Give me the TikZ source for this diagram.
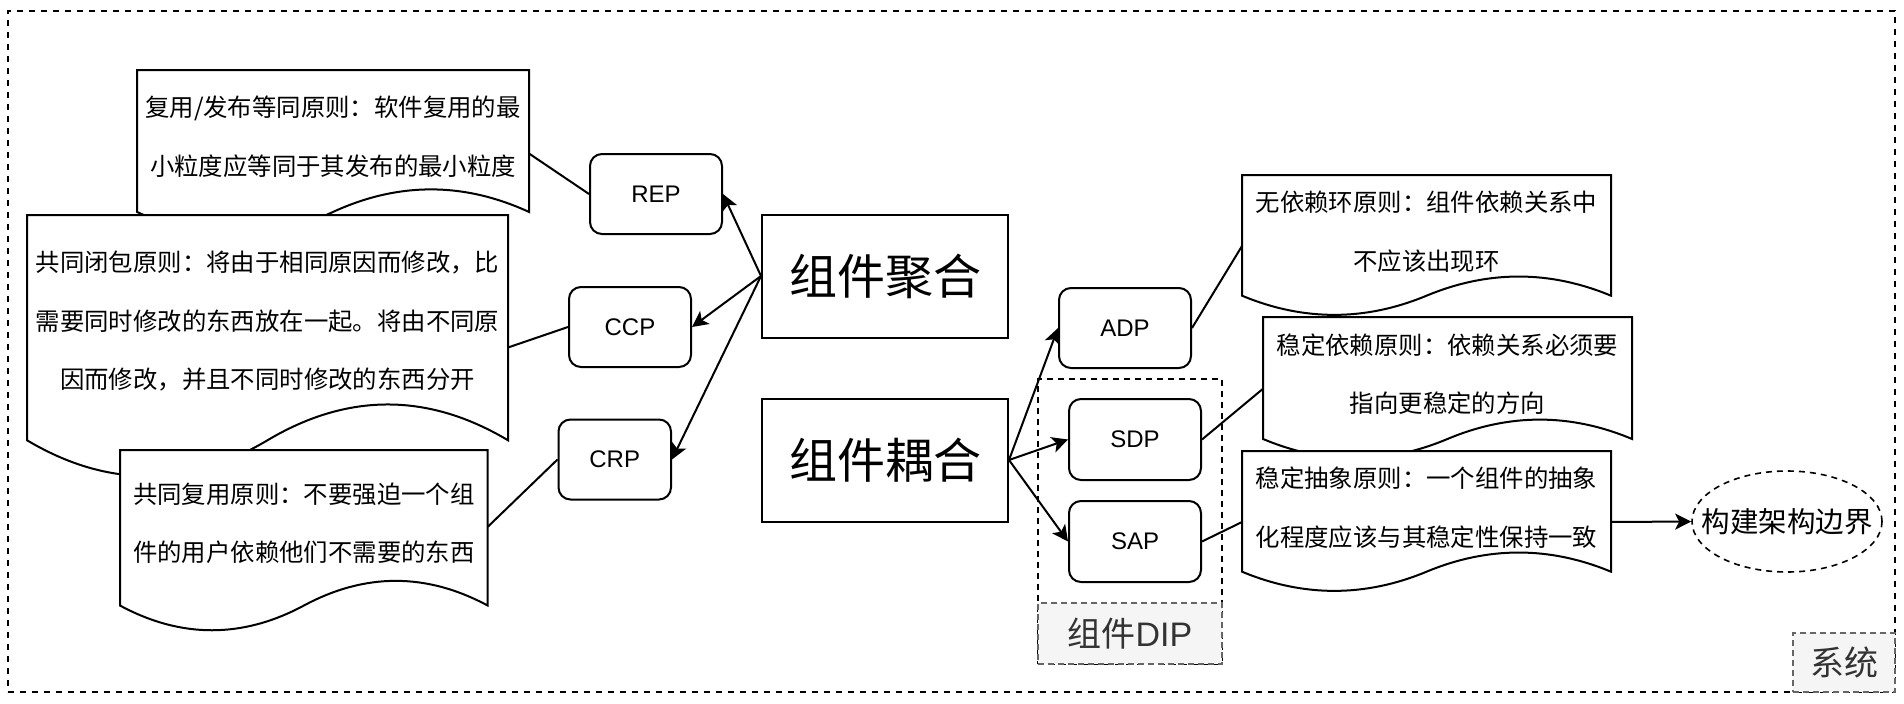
\documentclass[tikz,border=0pt]{standalone}
\usepackage{fontspec}
\setmainfont{Liberation Sans}
\newfontfamily\cjk{Noto Sans CJK SC}
\usetikzlibrary{arrows.meta,calc,shapes.geometric}
\definecolor{lblfill}{HTML}{F5F5F5}
\definecolor{lbldraw}{HTML}{666666}
\definecolor{lbltext}{HTML}{333333}
\newcommand\docpath[1]{%
 \filldraw[docline] let \p1=(#1.north west), \p2=(#1.south east), \n1={\x2-\x1}, \n2={\y1-\y2} in
 (\x1,\y1) -- (\x2,\y1) -- ({\x2},{\y1-0.85*\n2})
 .. controls ({\x1+5/6*\n1},{\y1-0.67*\n2}) and ({\x1+2/3*\n1},{\y1-0.67*\n2}) .. ({\x1+0.5*\n1},{\y1-0.85*\n2})
 .. controls ({\x1+1/3*\n1},{\y1-1.03*\n2}) and ({\x1+1/6*\n1},{\y1-1.03*\n2}) .. ({\x1},{\y1-0.85*\n2}) -- cycle;}
\tikzset{
 rbox/.style={draw, rounded corners=12pt, line width=2pt, minimum height=80pt, inner sep=0pt, font=\fontsize{24}{28}\selectfont},
 bigbox/.style={draw, line width=2pt, minimum width=246pt, minimum height=123pt, inner sep=0pt, font=\cjk\fontsize{48}{56}\selectfont},
 docbox/.style={rectangle, inner sep=0pt, outer sep=0pt},
 docline/.style={draw=black, fill=white, line width=2pt},
 doctext/.style={align=center, inner sep=0pt, font=\cjk\fontsize{24.4}{58.5}\selectfont},
 arr/.style={line width=2pt, -{Stealth[length=16pt,width=16pt,inset=4pt]}},
 ln/.style={line width=2pt},
 sysframe/.style={draw, line width=2pt, dash pattern=on 6pt off 6pt, inner sep=0pt, outer sep=0pt},
 dipbox/.style={draw, line width=1.6pt, dash pattern=on 6pt off 5pt, inner sep=0pt, outer sep=0pt},
 graylabel/.style={draw=lbldraw, fill=lblfill, text=lbltext, line width=1.6pt, dash pattern=on 6pt off 4pt, inner sep=0pt, outer sep=0pt, font=\fontsize{34}{40}\selectfont},
 boundary/.style={ellipse, draw, line width=1.6pt, dash pattern=on 6pt off 5pt, inner xsep=-19pt, inner ysep=0pt, minimum width=190pt, minimum height=101pt, font=\cjk\fontsize{28.5}{34}\selectfont}
}
\begin{document}
\begin{tikzpicture}[x=1pt,y=-1pt]
\useasboundingbox (0,0) rectangle (1904,704);
% system frame
\node[sysframe, minimum width=1887pt, minimum height=681pt] (sys) at (951.5,351.5) {};
\node[graylabel, anchor=south east, minimum width=102pt, minimum height=59pt] (syslbl) at (sys.south east) {{\cjk 系统}};
% DIP container
\node[dipbox, minimum width=184pt, minimum height=285pt] (dip) at (1130,521.5) {};
\node[graylabel, anchor=south, minimum width=184pt, minimum height=61pt] (diplbl) at (dip.south) {{\cjk 组件}DIP};
% left documents
\node[docbox, minimum width=392pt, minimum height=167pt] (repdoc) at (333,153.5) {};
\docpath{repdoc}
\node[doctext] (reptxt) at ($(repdoc.north)!0.4!(repdoc.south)$) {复用/发布等同原则：软件复用的最\\小粒度应等同于其发布的最小粒度};
\node[docbox, minimum width=481pt, minimum height=265pt] (ccpdoc) at (267.5,347.5) {};
\docpath{ccpdoc}
\node[doctext] (ccptxt) at ($(ccpdoc.north)!0.4!(ccpdoc.south)$) {共同闭包原则：将由于相同原因而修改，比\\需要同时修改的东西放在一起。将由不同原\\因而修改，并且不同时修改的东西分开};
\node[docbox, minimum width=367.7pt, minimum height=183pt] (crpdoc) at (303.85,541.5) {};
\docpath{crpdoc}
\node[doctext] (crptxt) at ($(crpdoc.north)!0.4!(crpdoc.south)$) {共同复用原则：不要强迫一个组\\件的用户依赖他们不需要的东西};
\coordinate (crpend) at ($(crpdoc.north east)!0.42!(crpdoc.south east)$);
% right documents
\node[docbox, minimum width=369pt, minimum height=142pt] (adpdoc) at (1426.5,246) {};
\docpath{adpdoc}
\node[doctext] (adptxt) at ($(adpdoc.north)!0.4!(adpdoc.south)$) {无依赖环原则：组件依赖关系中\\不应该出现环};
\node[docbox, minimum width=369pt, minimum height=143.5pt] (sdpdoc) at (1447.5,388.75) {};
\docpath{sdpdoc}
\node[doctext] (sdptxt) at ($(sdpdoc.north)!0.4!(sdpdoc.south)$) {稳定依赖原则：依赖关系必须要\\指向更稳定的方向};
\node[docbox, minimum width=369pt, minimum height=142pt] (sapdoc) at (1426.5,522) {};
\docpath{sapdoc}
\node[doctext] (saptxt) at ($(sapdoc.north)!0.4!(sapdoc.south)$) {稳定抽象原则：一个组件的抽象\\化程度应该与其稳定性保持一致};
% big boxes
\node[bigbox] (jh) at (885,276) {组件聚合};
\node[bigbox] (oh) at (885,460) {组件耦合};
% principle boxes
\node[rbox, minimum width=132pt] (rep) at (656,194) {REP};
\node[rbox, minimum width=122pt] (ccp) at (630,327) {CCP};
\node[rbox, minimum width=112.5pt] (crp) at (614.75,459.5) {CRP};
\node[rbox, minimum width=132pt] (adp) at (1125,328) {ADP};
\node[rbox, minimum width=132pt, minimum height=81pt] (sdp) at (1135,439.5) {SDP};
\node[rbox, minimum width=132pt, minimum height=81pt] (sap) at (1135,541.5) {SAP};
% boundary
\node[boundary] (bound) at (1787,521.5) {构建架构边界};
% connectors
\draw[arr] (jh.west) -- (rep.east);
\draw[arr] (jh.west) -- (ccp.east);
\draw[arr] (jh.west) -- (crp.east);
\draw[arr] (oh.east) -- (adp.west);
\draw[arr] (oh.east) -- (sdp.west);
\draw[arr] (oh.east) -- (sap.west);
\draw[ln] (rep.west) -- (repdoc.east);
\draw[ln] (ccp.west) -- (ccpdoc.east);
\draw[ln] (crp.west) -- (crpend);
\draw[ln] (adp.east) -- (adpdoc.west);
\draw[ln] (sdp.east) -- (sdpdoc.west);
\draw[ln] (sap.east) -- (sapdoc.west);
\draw[arr] (sapdoc.east) -- (bound.west);
\end{tikzpicture}
\end{document}
